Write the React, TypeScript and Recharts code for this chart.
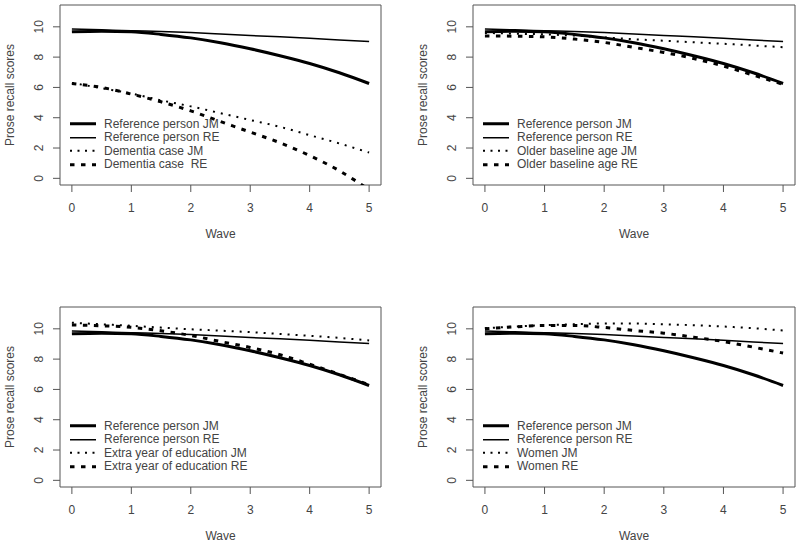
import React from 'react';
import { Legend, Line, LineChart, ReferenceArea, XAxis, YAxis } from 'recharts';

// Predicted prose recall trajectories at half-wave steps
const WAVES = [0, 0.5, 1, 1.5, 2, 2.5, 3, 3.5, 4, 4.5, 5];
const WAVE_TICKS = [0, 1, 2, 3, 4, 5];
const SCORE_TICKS = [0, 2, 4, 6, 8, 10];

const REF_JM = [9.67, 9.71, 9.67, 9.5, 9.27, 8.95, 8.55, 8.09, 7.58, 6.97, 6.26];
const REF_RE = [9.85, 9.8, 9.74, 9.69, 9.62, 9.53, 9.43, 9.34, 9.24, 9.13, 9.03];

const DEMENTIA_JM = [6.3, 5.95, 5.6, 5.15, 4.75, 4.3, 3.85, 3.4, 2.85, 2.3, 1.7];
const DEMENTIA_RE = [6.26, 6.0, 5.56, 5.05, 4.45, 3.75, 3.05, 2.35, 1.5, 0.5, -0.75];

const OLDER_JM = [9.6, 9.55, 9.5, 9.42, 9.3, 9.18, 9.08, 8.98, 8.88, 8.77, 8.65];
const OLDER_RE = [9.4, 9.38, 9.34, 9.19, 8.97, 8.64, 8.31, 7.91, 7.41, 6.81, 6.2];

const EDU_JM = [10.4, 10.3, 10.2, 10.08, 9.97, 9.88, 9.78, 9.66, 9.54, 9.4, 9.23];
const EDU_RE = [10.26, 10.2, 10.1, 9.87, 9.56, 9.16, 8.77, 8.29, 7.66, 7.0, 6.3];

const WOMEN_JM = [10.04, 10.15, 10.24, 10.3, 10.35, 10.35, 10.3, 10.24, 10.15, 10.04, 9.89];
const WOMEN_RE = [10.0, 10.13, 10.22, 10.22, 10.09, 9.89, 9.71, 9.45, 9.16, 8.79, 8.4];

const FONT = '"Liberation Sans", Arial, sans-serif';
const TEXT = '#444';
const FRAME = '#555';
const X_DOMAIN: [number, number] = [-0.2, 5.2];
const Y_DOMAIN: [number, number] = [-0.44, 11.44];

const STYLES = {
  refJM: { strokeWidth: 3, dash: undefined },
  refRE: { strokeWidth: 1.5, dash: undefined },
  cmpJM: { strokeWidth: 2, dash: '2 6' },
  cmpRE: { strokeWidth: 3, dash: '4.5 6.5' },
} as const;

function YTick({ x, y, payload }: any) {
  return (
    <text x={x} y={y} transform={`rotate(-90, ${x}, ${y})`} textAnchor="middle" fill={TEXT} fontSize={12} fontFamily={FONT}>
      {payload.value}
    </text>
  );
}

function XTitle({ viewBox }: any) {
  const { x, y, width } = viewBox;
  return (
    <text x={x + width / 2} y={y + 52.5} textAnchor="middle" fill={TEXT} fontSize={12} fontFamily={FONT}>
      Wave
    </text>
  );
}

function YTitle({ viewBox }: any) {
  const { x, y, width, height } = viewBox;
  const tx = x + width - 46.5;
  const ty = y + height / 2;
  return (
    <text x={tx} y={ty} transform={`rotate(-90, ${tx}, ${ty})`} textAnchor="middle" fill={TEXT} fontSize={12} fontFamily={FONT}>
      Prose recall scores
    </text>
  );
}

function LegendBox({ labels }: { labels: string[] }) {
  const keys = ['refJM', 'refRE', 'cmpJM', 'cmpRE'] as const;
  return (
    <div style={{ fontFamily: FONT, fontSize: 12, color: TEXT }}>
      {keys.map((k, i) => (
        <div key={k} style={{ display: 'flex', alignItems: 'center', height: 13.5, whiteSpace: 'nowrap' }}>
          <svg width={34} height={13.5} style={{ flex: 'none' }}>
            <line
              x1={0}
              x2={26}
              y1={6.75}
              y2={6.75}
              stroke="#000"
              strokeWidth={STYLES[k].strokeWidth}
              strokeDasharray={k === 'cmpJM' ? '2 5.5' : STYLES[k].dash}
            />
          </svg>
          <span>{labels[i]}</span>
        </div>
      ))}
    </div>
  );
}

function Panel({ jm, re, cmpJMLabel, cmpRELabel, right, bottom }: any) {
  const data = WAVES.map((wave, i) => ({
    wave,
    refJM: REF_JM[i],
    refRE: REF_RE[i],
    cmpJM: jm[i],
    cmpRE: re[i],
  }));
  const margin = { top: bottom ? 37 : 5, right: right ? 5 : 19, bottom: bottom ? 3 : 30, left: right ? 13 : 0 };
  const yWidth = 60;
  const plotLeft = margin.left + yWidth;
  const labels = ['Reference person JM', 'Reference person RE', cmpJMLabel, cmpRELabel];

  return (
    <LineChart width={400} height={bottom ? 275 : 270} data={data} margin={margin}>
      <XAxis
        dataKey="wave"
        type="number"
        domain={X_DOMAIN}
        ticks={WAVE_TICKS}
        axisLine={false}
        tickLine={{ stroke: FRAME }}
        tickSize={7}
        tickMargin={11}
        height={55}
        tick={{ fill: TEXT, fontSize: 12, fontFamily: FONT }}
        label={<XTitle />}
      />
      <YAxis
        type="number"
        domain={Y_DOMAIN}
        ticks={SCORE_TICKS}
        allowDataOverflow
        axisLine={false}
        tickLine={{ stroke: FRAME }}
        tickSize={7}
        tickMargin={9.5}
        width={yWidth}
        tick={<YTick />}
        label={<YTitle />}
      />
      <ReferenceArea x1={X_DOMAIN[0]} x2={X_DOMAIN[1]} y1={Y_DOMAIN[0]} y2={Y_DOMAIN[1]} fill="none" stroke={FRAME} strokeWidth={1} fillOpacity={0} />
      {(['cmpRE', 'cmpJM', 'refRE', 'refJM'] as const).map((k) => (
        <Line
          key={k}
          dataKey={k}
          type="monotone"
          stroke="#000"
          strokeWidth={STYLES[k].strokeWidth}
          strokeDasharray={STYLES[k].dash}
          dot={false}
          activeDot={false}
          isAnimationActive={false}
        />
      ))}
      <Legend
        layout="vertical"
        align="center"
        verticalAlign="middle"
        content={() => <LegendBox labels={labels} />}
        wrapperStyle={{ left: plotLeft + 10, top: margin.top + 112, width: 300, height: 'auto' }}
      />
    </LineChart>
  );
}

export default function App() {
  const cell = (left: number, top: number): React.CSSProperties => ({ position: 'absolute', left, top });
  return (
    <div style={{ position: 'absolute', left: 0, top: 0, width: 800, height: 545, background: '#fff' }}>
      <div style={cell(0, 0)}>
        <Panel jm={DEMENTIA_JM} re={DEMENTIA_RE} cmpJMLabel="Dementia case JM" cmpRELabel={'Dementia case\u00a0 RE'} />
      </div>
      <div style={cell(400, 0)}>
        <Panel jm={OLDER_JM} re={OLDER_RE} cmpJMLabel="Older baseline age JM" cmpRELabel="Older baseline age RE" right />
      </div>
      <div style={cell(0, 270)}>
        <Panel jm={EDU_JM} re={EDU_RE} cmpJMLabel="Extra year of education JM" cmpRELabel="Extra year of education RE" bottom />
      </div>
      <div style={cell(400, 270)}>
        <Panel jm={WOMEN_JM} re={WOMEN_RE} cmpJMLabel="Women JM" cmpRELabel="Women RE" right bottom />
      </div>
    </div>
  );
}
